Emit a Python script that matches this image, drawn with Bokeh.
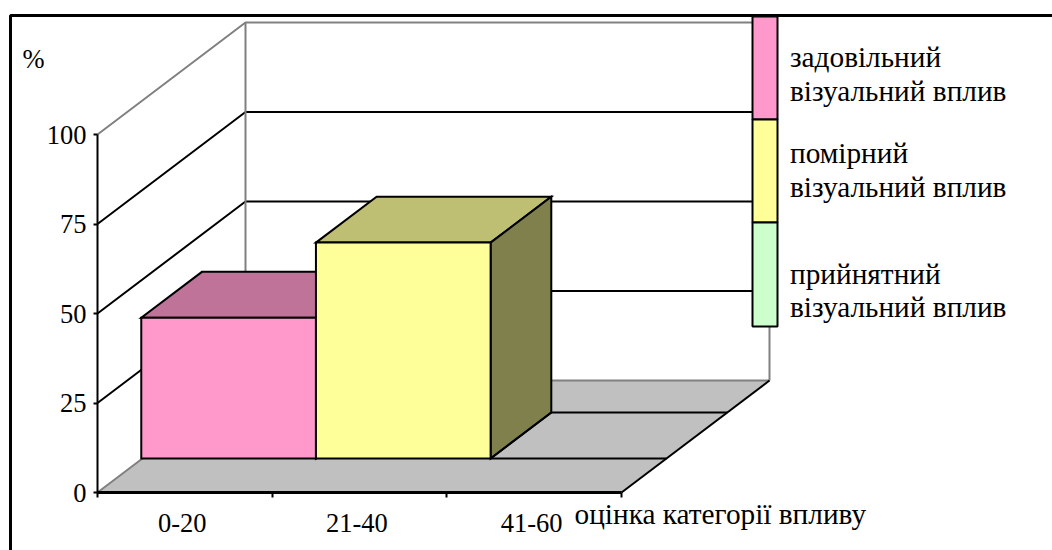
from bokeh.plotting import figure
from bokeh.models import Range1d, LinearAxis, FixedTicker, Label
from bokeh.embed import file_html
from bokeh.resources import INLINE

categories = ["0-20", "21-40", "41-60"]
series_names = ["задовільний\nвізуальний вплив", "помірний\nвізуальний вплив", "прийнятний\nвізуальний вплив"]
series_values = [39.3, 60.3, 0.0]
series_colors = ["#FF99CC", "#FFFF99", "#CCFFCC"]
top_colors = ["#BF7399", "#BFBF73", "#99BF99"]
side_colors = ["#804D66", "#80804D", "#668066"]
y_ticks = [0, 25, 50, 75, 100]

W, H = 1052, 550
X0, Y0 = 97, 492        # pixel of the origin
CAT_PX, PCT_PX = 174.67, 3.58
DEPTH_DX, DEPTH_DY = 148 / CAT_PX, 112 / PCT_PX
FONT = "Liberation Serif"
FS = "26.5px"
FS_TEXT = "29.3px"

def px_x(v):
    return (v - X0) / CAT_PX

def px_y(v):
    return (Y0 - v) / PCT_PX

def P(c, d, v):
    return c + d * DEPTH_DX, v + d * DEPTH_DY

def poly(*pts):
    xs, ys = zip(*[P(*q) for q in pts])
    return list(xs), list(ys)

p = figure(width=W, height=H, output_backend="svg", toolbar_location=None,
           x_range=Range1d(px_x(0), px_x(W)), y_range=Range1d(px_y(H), px_y(0)),
           min_border=0, outline_line_color=None, background_fill_color="white", border_fill_color="white")
p.xaxis.visible = False
p.yaxis.visible = False
p.xgrid.visible = False
p.ygrid.visible = False

# outer frame: only its top and left edges fall inside the picture
p.line([px_x(10), px_x(10), px_x(W)], [px_y(H), px_y(15), px_y(15)], line_color="black", line_width=3)

ncat = len(categories)
GREY = "#808080"
# floor
x, y = poly((0, 0, 0), (ncat, 0, 0), (ncat, 1, 0), (0, 1, 0))
p.patch(x, y, fill_color="#C0C0C0", line_color=None)

# walls and gridlines
for t in y_ticks[1:]:
    col = GREY if t == y_ticks[-1] else "black"
    x, y = poly((0, 0, t), (0, 1, t), (ncat, 1, t))
    p.line(x, y, line_color=col, line_width=2)
x, y = poly((0, 1, 0), (0, 1, y_ticks[-1]))
p.line(x, y, line_color=GREY, line_width=2)
x, y = poly((ncat, 1, 0), (ncat, 1, y_ticks[-1]))
p.line(x, y, line_color=GREY, line_width=2)
x, y = poly((0, 0, 0), (0, 1, 0), (ncat, 1, 0))
p.line(x, y, line_color=GREY, line_width=2)
x, y = poly((ncat, 0, 0), (ncat, 1, 0))
p.line(x, y, line_color="black", line_width=2)

# bars: depth range on the floor
D0, D1 = 0.304, 0.714
CX0, CW = -0.007, 1.0
for i, v in enumerate(series_values):
    a, b = CX0 + i * CW, CX0 + (i + 1) * CW
    if v == 0:
        for s in [((a, D0, 0), (ncat, D0, 0)), ((a, D1, 0), (ncat, D1, 0)), ((a, D0, 0), (a, D1, 0))]:
            x, y = poly(*s)
            p.line(x, y, line_color="black", line_width=2)
        continue
    for pts, col in [(((a, D0, v), (b, D0, v), (b, D1, v), (a, D1, v)), top_colors[i]),
                     (((b, D0, 0), (b, D1, 0), (b, D1, v), (b, D0, v)), side_colors[i]),
                     (((a, D0, 0), (b, D0, 0), (b, D0, v), (a, D0, v)), series_colors[i])]:
        x, y = poly(*pts)
        p.patch(x, y, fill_color=col, line_color="black", line_width=2, line_join="miter")

# axes
y_ax = LinearAxis(fixed_location=0, ticker=FixedTicker(ticks=y_ticks), bounds=(0, 100),
                  major_label_text_font=FONT, major_label_text_font_size=FS, major_label_text_color="black",
                  axis_line_color="black", axis_line_width=2, major_tick_line_color="black", major_tick_line_width=2,
                  major_tick_in=0, major_tick_out=4, minor_tick_line_color=None, major_label_standoff=7)
p.add_layout(y_ax, "left")
x_ax = LinearAxis(fixed_location=0, ticker=FixedTicker(ticks=list(range(ncat + 1))), bounds=(0, ncat),
                  major_label_text_color=None, major_label_text_font_size="1px",
                  axis_line_color="black", axis_line_width=3, major_tick_line_color="black", major_tick_line_width=2,
                  major_tick_in=0, major_tick_out=5, minor_tick_line_color=None)
p.add_layout(x_ax, "below")
lab_ticks = [i + 0.485 for i in range(ncat)]
x_lab = LinearAxis(fixed_location=0, ticker=FixedTicker(ticks=lab_ticks),
                   major_label_overrides={t: c for t, c in zip(lab_ticks, categories)},
                   major_label_text_font=FONT, major_label_text_font_size=FS, major_label_text_color="black",
                   axis_line_color=None, major_tick_line_color=None, minor_tick_line_color=None,
                   major_label_standoff=15)
p.add_layout(x_lab, "below")

def txt(t, x, y, size=FS_TEXT):
    p.add_layout(Label(x=x, y=H - y, x_units="screen", y_units="screen", text=t, text_font=FONT,
                       text_font_size=size, text_color="black", text_baseline="middle"))

# legend swatches
edges = [16, 119, 222, 326]
for i in range(3):
    p.quad(left=px_x(752), right=px_x(777), top=px_y(edges[i]), bottom=px_y(edges[i + 1]),
           fill_color=series_colors[i], line_color="black", line_width=2)
centres = [(56, 90), (152.5, 186), (273, 306.5)]
for name, (a, b) in zip(series_names, centres):
    l1, l2 = name.split("\n")
    txt(l1, 789.5, a)
    txt(l2, 789.5, b)
txt("%", 22, 58, FS)
txt("оцінка категорії впливу", 574, 513)

open("out.html", "w").write(file_html(p, INLINE))
